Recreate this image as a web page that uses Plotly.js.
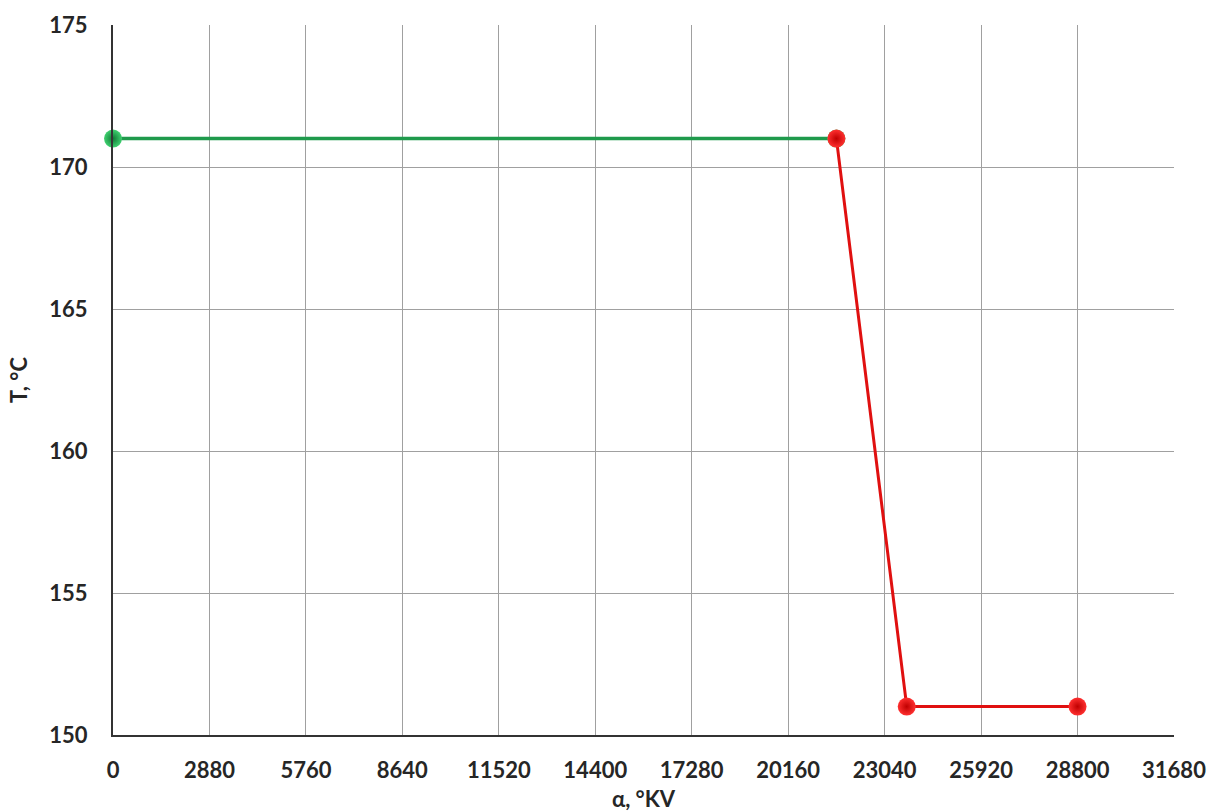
<!DOCTYPE html>
<html><head><meta charset="utf-8">
<script src="https://cdn.plot.ly/plotly-3.0.1.min.js"></script>
<style>body{margin:0;background:#fff}#c{width:1218px;height:812px}</style>
</head><body><div id="c"></div>
<script>
const greenX = [0, 21600];
const greenY = [171, 171];
const redX = [21600, 23700, 28800];
const redY = [171, 151, 151];
const xTicks = [0, 2880, 5760, 8640, 11520, 14400, 17280, 20160, 23040, 25920, 28800, 31680];
const yTicks = [150, 155, 160, 165, 170, 175];
const xTitle = 'α, °KV';
const yTitle = 'T, °C';

const FAM = 'Lato, "Open Sans", sans-serif';
const TF = {family: FAM, size: 22, color: '#262626', weight: 'bold'};
const traces = [
  {x: greenX, y: greenY, mode: 'lines+markers', cliponaxis: false, line: {color: '#1f9a4c', width: 3.5},
   marker: {size: 18, color: '#3fd070', gradient: {type: 'radial', color: '#0f7a34'}}, hoverinfo: 'x+y'},
  {x: redX, y: redY, mode: 'lines+markers', cliponaxis: false, line: {color: '#e01010', width: 3},
   marker: {size: 18, color: '#ff3030', gradient: {type: 'radial', color: '#c00000'}}, hoverinfo: 'x+y'}
];
const layout = {
  width: 1218, height: 812,
  margin: {l: 113, r: 44, t: 25, b: 77},
  paper_bgcolor: '#fff', plot_bgcolor: '#fff',
  showlegend: false,
  font: {family: FAM, size: 22, color: '#262626'},
  xaxis: {range: [0, 31680], tickvals: xTicks, ticktext: xTicks.map(String),
    showgrid: true, gridcolor: '#a0a0a0', gridwidth: 1, zeroline: false,
    showline: true, linecolor: '#333', linewidth: 2, ticks: '', ticklen: 0,
    ticklabelstandoff: 15,
    tickfont: TF, automargin: false,
    title: {text: '<b>' + xTitle + '</b>', font: {family: FAM, size: 22, color: '#262626'}, standoff: 9}},
  yaxis: {range: [150, 175], tickvals: yTicks, ticktext: yTicks.map(String),
    showgrid: true, gridcolor: '#a0a0a0', gridwidth: 1, zeroline: false,
    showline: true, linecolor: '#333', linewidth: 2, ticks: '', ticklen: 0,
    ticklabelstandoff: 19,
    tickfont: TF, automargin: false,
    title: {text: '<b>' + yTitle + '</b>', font: {family: FAM, size: 22, color: '#262626'}, standoff: 16}}
};
Plotly.newPlot('c', traces, layout, {displayModeBar: false, staticPlot: true});
</script></body></html>
